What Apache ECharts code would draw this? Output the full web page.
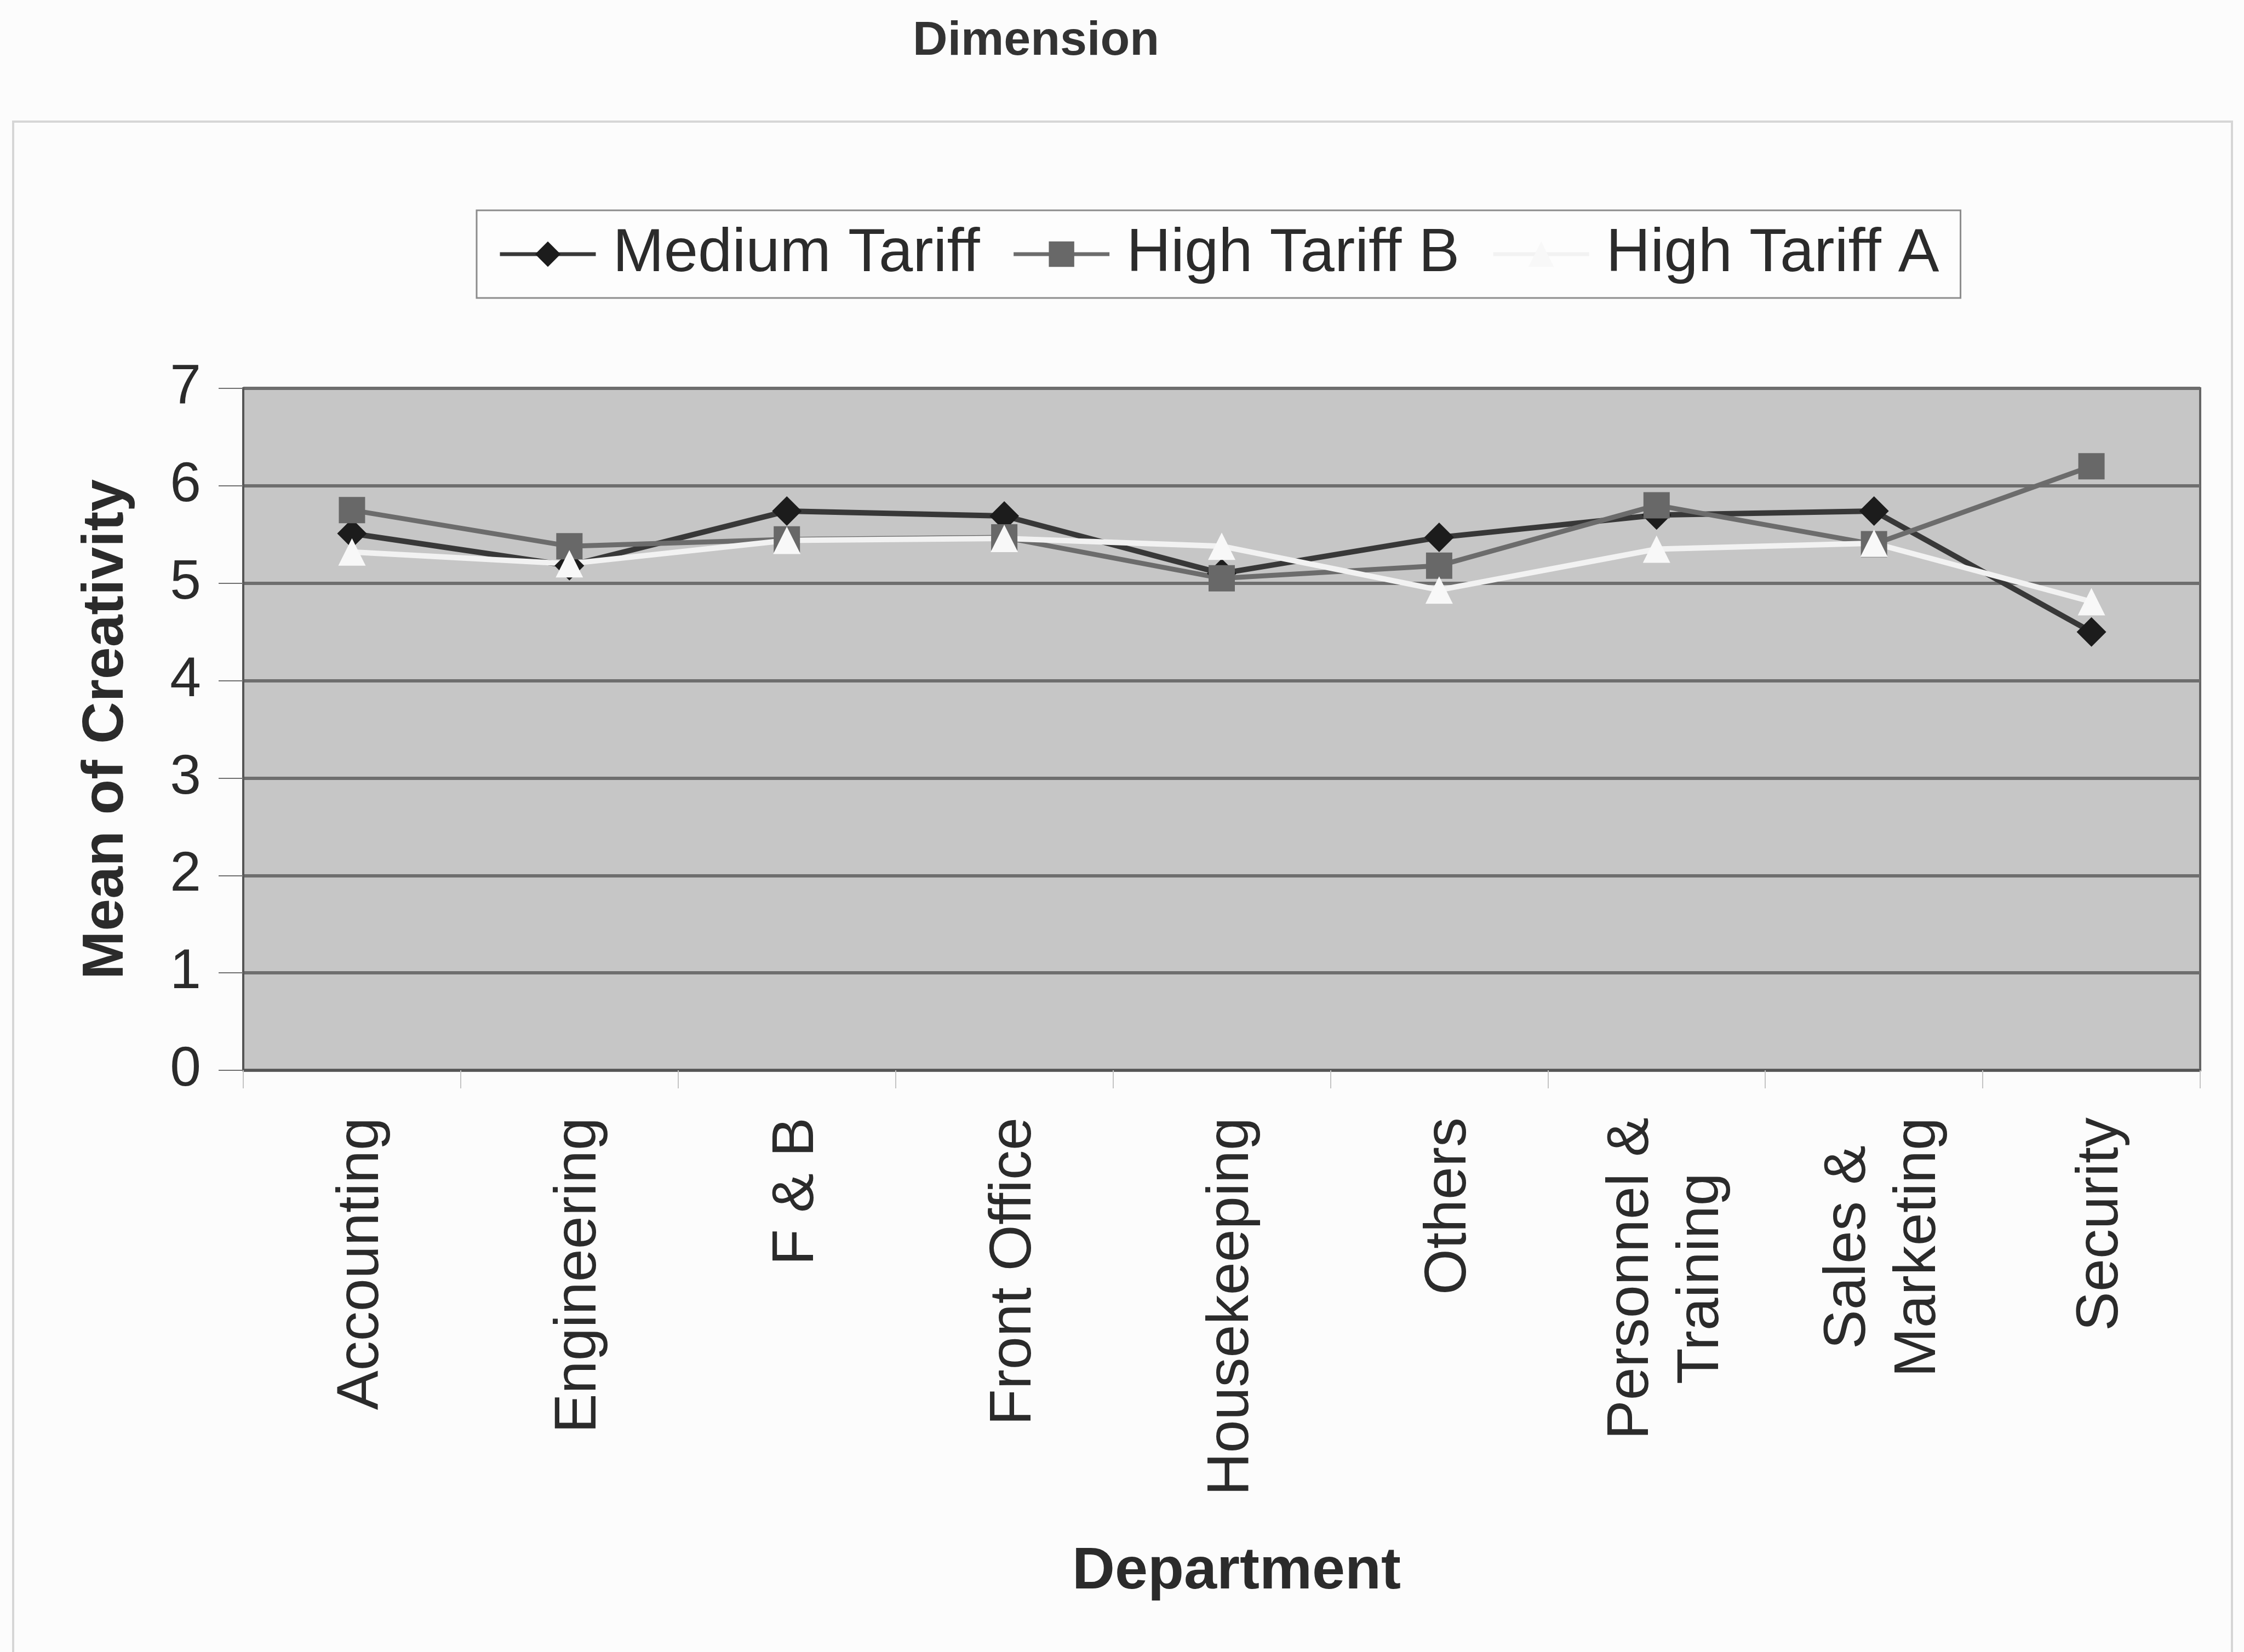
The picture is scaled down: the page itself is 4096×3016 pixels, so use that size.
<!DOCTYPE html>
<html>
<head>
<meta charset="utf-8">
<script src="https://cdn.jsdelivr.net/npm/echarts@6/dist/echarts.min.js"></script>
<style>
  html, body { margin: 0; padding: 0; background: #fcfcfc; }
  #chart { width: 4096px; height: 3016px; }
</style>
</head>
<body>
<div id="chart"></div>
<script>
// Departments on the category axis
const departments = ['Accounting', 'Engineering', 'F & B', 'Front Office', 'Housekeeping',
  'Others', 'Personnel &\nTraining', 'Sales &\nMarketing', 'Security'];

// Mean of creativity per department, one array per hotel tariff group
const mediumTariff = [5.51, 5.18, 5.74, 5.69, 5.10, 5.47, 5.70, 5.74, 4.50];
const highTariffB  = [5.75, 5.38, 5.45, 5.47, 5.05, 5.18, 5.80, 5.40, 6.20];
const highTariffA  = [5.32, 5.20, 5.44, 5.46, 5.38, 4.93, 5.35, 5.41, 4.81];

// Value-axis ticks
const yTicks = [0, 1, 2, 3, 4, 5, 6, 7];

const FONT = '"Liberation Sans", Arial, Helvetica, sans-serif';
const TEXT = '#2b2b2b';

const chart = echarts.init(document.getElementById('chart'), null, { renderer: 'canvas' });

chart.setOption({
  animation: false,
  backgroundColor: '#fcfcfc',
  textStyle: { fontFamily: FONT },
  graphic: [
    {
      type: 'rect', z: 0, silent: true,
      shape: { x: 24, y: 222, width: 4050, height: 2900 },
      style: { fill: 'none', stroke: '#d6d6d6', lineWidth: 4 }
    },
    {
      type: 'text', z: 5, silent: true,
      style: {
        x: 1891, y: 76, text: 'Dimension', fill: '#333',
        font: 'bold 88px ' + FONT, textAlign: 'center', textVerticalAlign: 'middle'
      }
    }
  ],
  legend: {
    left: 870, top: 384,
    padding: [24, 39],
    backgroundColor: '#fdfdfd',
    borderColor: '#8c8c8c',
    borderWidth: 3,
    itemWidth: 175,
    itemHeight: 58,
    itemGap: 58,
    lineStyle: { width: 7 },
    textStyle: { fontSize: 112, color: TEXT, fontFamily: FONT, padding: [0, 0, 0, 26] },
    data: ['Medium Tariff', 'High Tariff B', 'High Tariff A']
  },
  grid: {
    left: 444, right: 80, top: 709, bottom: 1062,
    show: true,
    backgroundColor: '#c6c6c6',
    borderColor: '#666',
    borderWidth: 4
  },
  xAxis: {
    type: 'category',
    data: departments,
    boundaryGap: true,
    name: 'Department',
    nameLocation: 'middle',
    nameGap: 862,
    nameTextStyle: { fontSize: 108, fontWeight: 'bold', color: TEXT, fontFamily: FONT, padding: [0, 0, 0, 54] },
    axisLine: { show: true, lineStyle: { color: '#555', width: 4 } },
    axisTick: { show: true, alignWithLabel: false, length: 33, lineStyle: { color: '#c4c4c4', width: 2 } },
    axisLabel: {
      interval: 0,
      rotate: 90,
      margin: 86,
      fontSize: 108,
      color: TEXT,
      fontFamily: FONT,
      padding: [36, 0, 0, 0],
      formatter: function (v) {
        return v.split('\n').map(function (s) { return '{c|' + s + '}'; }).join('\n');
      },
      rich: {
        c: { align: 'center', fontSize: 108, lineHeight: 128, color: TEXT, fontFamily: FONT }
      }
    },
    splitLine: { show: false }
  },
  yAxis: {
    type: 'value',
    min: yTicks[0],
    max: yTicks[yTicks.length - 1],
    interval: yTicks[1] - yTicks[0],
    name: 'Mean of Creativity',
    nameLocation: 'middle',
    nameGap: 196,
    nameRotate: 90,
    nameTextStyle: { fontSize: 106, fontWeight: 'bold', color: TEXT, fontFamily: FONT },
    axisLine: { show: true, lineStyle: { color: '#555', width: 4 } },
    axisTick: { show: true, length: 45, lineStyle: { color: '#6f6f6f', width: 2 } },
    axisLabel: { margin: 77, fontSize: 102, color: TEXT, fontFamily: FONT },
    splitLine: { show: true, lineStyle: { color: '#6e6e6e', width: 6 } }
  },
  series: [
    {
      name: 'Medium Tariff',
      type: 'line',
      data: mediumTariff,
      symbol: 'diamond',
      symbolSize: 54,
      lineStyle: { color: '#383838', width: 10 },
      itemStyle: { color: '#1c1c1c' }
    },
    {
      name: 'High Tariff B',
      type: 'line',
      data: highTariffB,
      symbol: 'rect',
      symbolSize: 48,
      lineStyle: { color: '#6c6c6c', width: 9 },
      itemStyle: { color: '#686868' }
    },
    {
      name: 'High Tariff A',
      type: 'line',
      data: highTariffA,
      symbol: 'triangle',
      symbolSize: 50,
      lineStyle: { color: '#f2f2f2', width: 10 },
      itemStyle: { color: '#f8f8f8' }
    }
  ]
});
</script>
</body>
</html>
